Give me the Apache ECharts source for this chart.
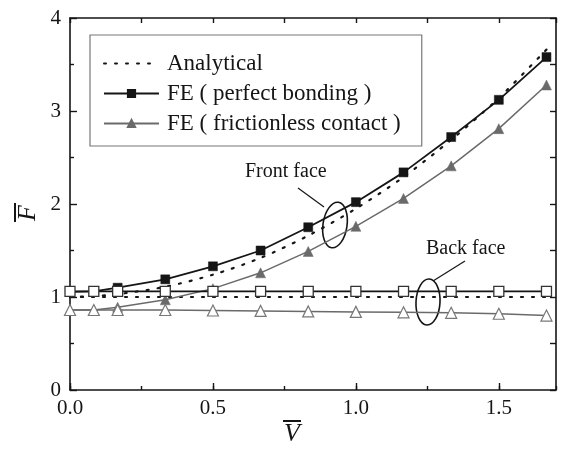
<!DOCTYPE html>
<html>
<head>
<meta charset="utf-8">
<script src="https://cdn.jsdelivr.net/npm/echarts@6/dist/echarts.min.js"></script>
<style>html,body{margin:0;padding:0;background:#fff;}#c{width:562px;height:449px;}</style>
</head>
<body>
<div id="c"></div>
<script>
var xValues = [0, 1/12, 1/6, 1/3, 1/2, 2/3, 5/6, 1, 7/6, 4/3, 3/2, 5/3];
var analyticalFront = [1.00, 1.01, 1.03, 1.11, 1.24, 1.42, 1.66, 1.95, 2.29, 2.69, 3.14, 3.66];
var analyticalBack  = [1.00, 1.00, 1.00, 1.00, 1.00, 1.00, 1.00, 1.00, 1.00, 1.00, 1.00, 1.00];
var bondingFront    = [1.055, 1.06, 1.10, 1.19, 1.33, 1.50, 1.75, 2.02, 2.34, 2.72, 3.12, 3.58];
var bondingBack     = [1.06, 1.06, 1.06, 1.06, 1.06, 1.06, 1.06, 1.06, 1.06, 1.06, 1.06, 1.06];
var frictionFront   = [0.86, 0.86, 0.89, 0.97, 1.09, 1.26, 1.49, 1.76, 2.06, 2.41, 2.81, 3.28];
var frictionBack    = [0.86, 0.86, 0.86, 0.86, 0.855, 0.85, 0.845, 0.84, 0.835, 0.83, 0.82, 0.80];
var xTickLabels = ['0.0', '0.5', '1.0', '1.5'];
var yTickLabels = ['0', '1', '2', '3', '4'];
var legendNames = ['Analytical', 'FE ( perfect bonding )', 'FE ( frictionless contact )'];

function pairs(ys) { return xValues.map(function (x, i) { return [x, ys[i]]; }); }

var FONT = 'Liberation Serif';
var BLACK = '#151515';
var GRAY = '#6a6a6a';
var dotted = { color: BLACK, width: 2.2, type: [2, 9], cap: 'round' };

var chart = echarts.init(document.getElementById('c'));
var axisLineStyle = { color: BLACK, width: 1.6 };
var option = {
  animation: false,
  backgroundColor: '#fff',
  grid: { left: 70, right: 6, top: 18, bottom: 59 },
  legend: {
    data: [
      { name: legendNames[0], itemStyle: { opacity: 0 } },
      { name: legendNames[1] },
      { name: legendNames[2] }
    ],
    orient: 'vertical',
    left: 90, top: 35,
    padding: [17, 21, 11, 13],
    itemWidth: 55, itemHeight: 9, itemGap: 7,
    borderColor: '#777', borderWidth: 1.2,
    textStyle: { fontFamily: FONT, fontSize: 23, color: BLACK, lineHeight: 23, padding: [0, 0, 0, 3] }
  },
  xAxis: [
    { type: 'value', min: 0, max: 1.7, interval: 0.5, position: 'bottom',
      axisLine: { show: true, onZero: false, lineStyle: axisLineStyle },
      axisTick: { inside: true, length: 7, lineStyle: { color: BLACK, width: 1.4 } },
      axisLabel: { fontFamily: FONT, fontSize: 21, color: BLACK, margin: 8, showMaxLabel: false,
        formatter: function (v) { var i = Math.round(v / 0.5); return Math.abs(v - i * 0.5) < 1e-6 ? (xTickLabels[i] || '') : ''; } },
      splitLine: { show: false } },
    { type: 'value', min: 0, max: 1.7, interval: 0.25, position: 'bottom',
      axisLine: { show: false }, axisLabel: { show: false }, splitLine: { show: false },
      axisTick: { inside: true, length: 4, lineStyle: { color: BLACK, width: 1.4 } } },
    { type: 'value', min: 0, max: 1.7, interval: 0.25, position: 'top',
      axisLine: { show: true, onZero: false, lineStyle: axisLineStyle }, axisLabel: { show: false }, splitLine: { show: false },
      axisTick: { inside: true, length: 5, lineStyle: { color: BLACK, width: 1.4 } } }
  ],
  yAxis: [
    { type: 'value', min: 0, max: 4, interval: 1, position: 'left',
      axisLine: { show: true, onZero: false, lineStyle: axisLineStyle },
      axisTick: { inside: true, length: 7, lineStyle: { color: BLACK, width: 1.4 } },
      minorTick: { show: true, splitNumber: 2, length: 4, lineStyle: { color: BLACK, width: 1.4 } },
      axisLabel: { fontFamily: FONT, fontSize: 21, color: BLACK, margin: 9,
        formatter: function (v) { return yTickLabels[Math.round(v)]; } },
      splitLine: { show: false } },
    { type: 'value', min: 0, max: 4, interval: 0.5, position: 'right',
      axisLine: { show: true, onZero: false, lineStyle: axisLineStyle }, axisLabel: { show: false }, splitLine: { show: false },
      axisTick: { inside: true, length: 6, lineStyle: { color: BLACK, width: 1.4 } } }
  ],
  series: [
    { name: legendNames[0], type: 'line', data: pairs(analyticalFront), symbol: 'none', smooth: 0.3,
      lineStyle: dotted, itemStyle: { color: BLACK }, z: 2 },
    { name: 'Analytical back', type: 'line', data: pairs(analyticalBack), symbol: 'none',
      lineStyle: dotted, itemStyle: { color: BLACK }, z: 2 },
    { name: legendNames[1], type: 'line', data: pairs(bondingFront), symbol: 'rect', symbolSize: 9,
      lineStyle: { color: BLACK, width: 1.8 }, itemStyle: { color: BLACK, borderColor: BLACK, borderWidth: 0.5 }, z: 3 },
    { name: 'Bonding back', type: 'line', data: pairs(bondingBack), symbol: 'rect', symbolSize: 10,
      lineStyle: { color: BLACK, width: 1.8 }, itemStyle: { color: '#fff', borderColor: '#333', borderWidth: 1.3 }, z: 4 },
    { name: legendNames[2], type: 'line', data: pairs(frictionFront), symbol: 'triangle', symbolSize: 10,
      lineStyle: { color: GRAY, width: 1.5 }, itemStyle: { color: GRAY, borderColor: GRAY, borderWidth: 0.5 }, z: 3 },
    { name: 'Frictionless back', type: 'line', data: pairs(frictionBack), symbol: 'triangle', symbolSize: 11,
      lineStyle: { color: GRAY, width: 1.5 }, itemStyle: { color: '#fff', borderColor: '#777', borderWidth: 1.2 }, z: 4 }
  ],
  graphic: [
    { type: 'text', left: 245, top: 162, style: { text: 'Front face', font: '20px "Liberation Serif"', fill: BLACK } },
    { type: 'line', shape: { x1: 298, y1: 188, x2: 324, y2: 207 }, style: { stroke: BLACK, lineWidth: 1.2 } },
    { type: 'ellipse', x: 335, y: 225, rotation: -0.15, shape: { cx: 0, cy: 0, rx: 12, ry: 23 },
      style: { fill: 'none', stroke: BLACK, lineWidth: 1.6 } },
    { type: 'text', left: 426, top: 239, style: { text: 'Back face', font: '20px "Liberation Serif"', fill: BLACK } },
    { type: 'line', shape: { x1: 465, y1: 261, x2: 433, y2: 281 }, style: { stroke: BLACK, lineWidth: 1.2 } },
    { type: 'ellipse', x: 428, y: 302, rotation: -0.05, shape: { cx: 0, cy: 0, rx: 12, ry: 23 },
      style: { fill: 'none', stroke: BLACK, lineWidth: 1.6 } },
    { type: 'group', x: 292, y: 434, children: [
      { type: 'text', x: 0, y: 0, style: { text: 'V', font: 'italic 26px "Liberation Serif"', fill: BLACK, align: 'center', verticalAlign: 'middle' } },
      { type: 'line', shape: { x1: -9, y1: -13, x2: 9, y2: -13 }, style: { stroke: BLACK, lineWidth: 2 } }
    ] },
    { type: 'group', x: 28, y: 213, rotation: Math.PI / 2, children: [
      { type: 'text', x: 0, y: 0, style: { text: 'F', font: 'italic 26px "Liberation Serif"', fill: BLACK, align: 'center', verticalAlign: 'middle' } },
      { type: 'line', shape: { x1: -9, y1: -13, x2: 10, y2: -13 }, style: { stroke: BLACK, lineWidth: 2 } }
    ] }
  ]
};
chart.setOption(option);
</script>
</body>
</html>
